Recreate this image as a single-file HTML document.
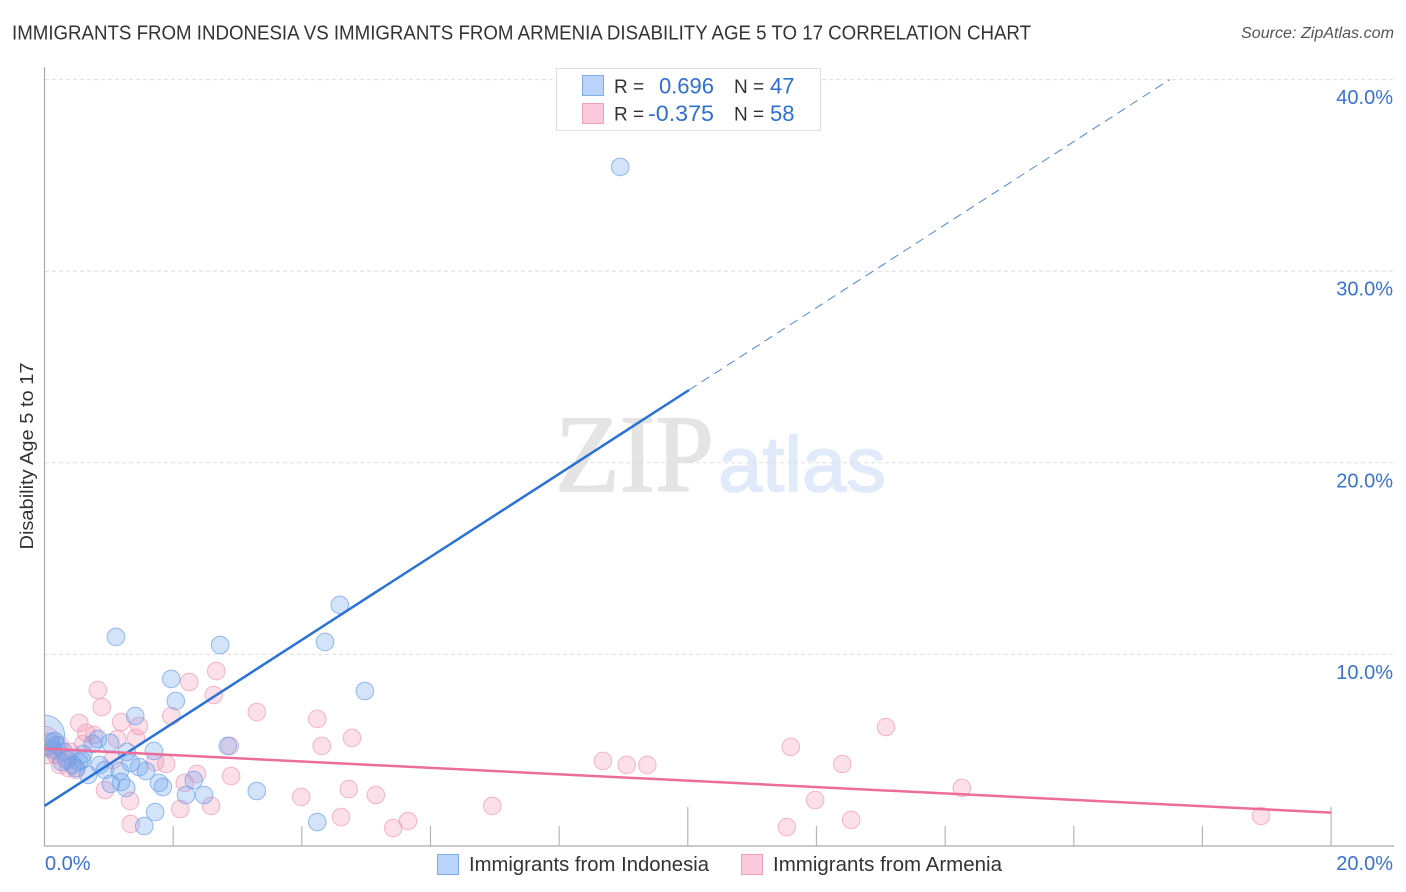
<!DOCTYPE html>
<html>
<head>
<meta charset="utf-8">
<style>
html,body{margin:0;padding:0;background:#fff;width:1406px;height:892px;overflow:hidden}
svg{display:block}
text{font-family:"Liberation Sans",sans-serif}
</style>
</head>
<body>
<svg id="chart" width="1406" height="892" viewBox="0 0 1406 892" xmlns="http://www.w3.org/2000/svg">
  <defs><clipPath id="plot-clip"><rect x="45" y="60" width="1349" height="786"/></clipPath></defs>
  <text x="12" y="39.5" font-size="20" fill="#333" textLength="1019" lengthAdjust="spacingAndGlyphs">IMMIGRANTS FROM INDONESIA VS IMMIGRANTS FROM ARMENIA DISABILITY AGE 5 TO 17 CORRELATION CHART</text>
  <text x="1241" y="38" font-size="15.5" font-style="italic" fill="#555" textLength="153" lengthAdjust="spacingAndGlyphs">Source: ZipAtlas.com</text>
  <text x="555" y="491" font-size="110" fill="#e4e4e4" stroke="#e4e4e4" stroke-width="1.5" style="font-family:'Liberation Serif',serif" textLength="159" lengthAdjust="spacingAndGlyphs">ZIP</text>
  <text x="718" y="491" font-size="78" fill="#e0eafa" stroke="#e0eafa" stroke-width="1.5" textLength="168" lengthAdjust="spacingAndGlyphs">atlas</text>
  <g id="grid"></g>
  <g id="axes"></g>
  <g id="points" clip-path="url(#plot-clip)"></g>
  <g id="trends"></g>
  <g id="tick-labels"></g>
  <text transform="translate(33,456) rotate(-90)" font-size="18" fill="#333" text-anchor="middle" textLength="187" lengthAdjust="spacingAndGlyphs">Disability Age 5 to 17</text>
  <g>
    <rect x="556.5" y="68.5" width="264" height="62" fill="#fff" stroke="#e0e0e0" stroke-width="1"/>
    <rect x="582.5" y="75.5" width="21" height="20" fill="#b9d4f8" stroke="#7fabe6" stroke-width="1"/>
    <rect x="582.5" y="103.5" width="21" height="20" fill="#fcc9dc" stroke="#f0a0bc" stroke-width="1"/>
    <text x="614" y="93" font-size="19" fill="#333">R =</text>
    <text x="714" y="93.500" font-size="22" fill="#2f6fd0" text-anchor="end">0.696</text>
    <text x="734" y="93" font-size="19" fill="#333">N =</text>
    <text x="770" y="93.500" font-size="22" fill="#2f6fd0">47</text>
    <text x="614" y="120.500" font-size="19" fill="#333">R =</text>
    <text x="714" y="121" font-size="22" fill="#2f6fd0" text-anchor="end" textLength="66" lengthAdjust="spacingAndGlyphs">-0.375</text>
    <text x="734" y="120.500" font-size="19" fill="#333">N =</text>
    <text x="770" y="121" font-size="22" fill="#2f6fd0">58</text>
  </g>
  <g>
    <rect x="437.500" y="854.500" width="21" height="20" fill="#b9d4f8" stroke="#7fabe6" stroke-width="1"/>
    <text x="469" y="871" font-size="20" fill="#333" textLength="240" lengthAdjust="spacingAndGlyphs">Immigrants from Indonesia</text>
    <rect x="741.500" y="854.500" width="21" height="20" fill="#fcc9dc" stroke="#f0a0bc" stroke-width="1"/>
    <text x="773" y="871" font-size="20" fill="#333" textLength="229" lengthAdjust="spacingAndGlyphs">Immigrants from Armenia</text>
  </g>
</svg>
<script>
const xTickValues = [0, 2, 4, 6, 8, 10, 12, 14, 16, 18, 20];
const xLabelValues = ["0.0%", "20.0%"];
const yTickValues = [10, 20, 30, 40];
const yTickLabels = ["10.0%", "20.0%", "30.0%", "40.0%"];

const blueX = [0, 8.95, 4.59, 4.36, 1.11, 2.73, 4.98, 1.97, 2.04, 1.41, 2.85, 1.70, 1.28, 0.83, 1.02, 0.75, 0.60, 3.30, 4.24, 1.55, 1.72, 2.20, 2.48, 2.32, 1.78, 1.84, 1.58, 1.47, 1.34, 1.17, 1.19, 1.27, 1.03, 0.94, 0.68, 0.86, 0.44, 0.35, 0.27, 0.54, 0.16, 0.09, 0.19, 0.58, 0.49, 0.13, 0.30];
const blueY = [5.79, 35.44, 12.58, 10.65, 10.91, 10.49, 8.09, 8.72, 7.57, 6.78, 5.22, 4.96, 4.91, 5.58, 5.38, 5.32, 4.80, 2.87, 1.25, 1.04, 1.77, 2.66, 2.66, 3.44, 3.29, 3.08, 3.91, 4.12, 4.33, 3.91, 3.34, 3.03, 3.24, 3.97, 3.71, 4.23, 4.23, 4.49, 4.38, 4.38, 5.48, 5.43, 5.27, 4.49, 4.07, 5.01, 4.91];
const blueWeight = [5.2];

const pinkX = [0, 0.83, 0.89, 0.54, 1.19, 1.47, 0.65, 0.77, 1.13, 1.42, 0.60, 1.72, 1.89, 2.37, 2.18, 0.94, 1.33, 1.34, 2.11, 2.59, 2.90, 3.99, 4.61, 4.73, 4.78, 4.31, 4.24, 3.30, 2.88, 2.63, 2.67, 2.25, 1.97, 1.06, 5.15, 5.42, 5.65, 6.96, 8.68, 9.05, 9.37, 11.60, 12.40, 13.08, 14.26, 11.98, 11.54, 12.54, 18.91, 0.24, 0.40, 0.12, 0.05, 0.24, 0.37, 0.49, 0.18, 0.32];
const pinkY = [5.45, 8.14, 7.25, 6.42, 6.47, 6.26, 5.90, 5.79, 5.58, 5.64, 5.32, 4.38, 4.28, 3.76, 3.29, 2.92, 2.35, 1.15, 1.93, 2.09, 3.65, 2.56, 1.51, 2.97, 5.64, 5.22, 6.63, 6.99, 5.22, 7.88, 9.13, 8.56, 6.78, 4.49, 2.66, 0.94, 1.30, 2.09, 4.44, 4.23, 4.23, 5.17, 4.28, 6.21, 3.03, 2.40, 0.99, 1.36, 1.57, 5.27, 4.91, 5.11, 4.75, 4.23, 4.07, 3.97, 4.75, 4.59];
const pinkWeight = [3];

const blueTrendX = [0, 10.02, 17.49];
const blueTrendY = [2.09, 23.8, 40];
const pinkTrendX = [0, 20];
const pinkTrendY = [5.08, 1.74];

const NS = "http://www.w3.org/2000/svg";
function xScale(v) { return 44.5 + v * 64.33; }
function yScale(v) { return 846 - v * 19.16; }
function make(parent, tag, attrs) {
  const el = document.createElementNS(NS, tag);
  for (const k in attrs) el.setAttribute(k, attrs[k]);
  document.getElementById(parent).appendChild(el);
  return el;
}

yTickValues.forEach(function (v, i) {
  const grid = make("grid", "line", { x1: 45, x2: 1394, y1: yScale(v), y2: yScale(v), stroke: "#dedede", "stroke-width": 1, "stroke-dasharray": "4 3" });
  
  
  const label = make("tick-labels", "text", { x: 1393, y: yScale(v) + 24.5, "font-size": 20, fill: "#3a72cf", "text-anchor": "end" });
  label.textContent = yTickLabels[i];
  
  
});

const yAxis = make("axes", "line", { x1: 44.5, x2: 44.5, y1: 67, y2: 846.5, stroke: "#aaa", "stroke-width": 1.2 });


const xAxis = make("axes", "line", { x1: 44, x2: 1394, y1: 846, y2: 846, stroke: "#aaa", "stroke-width": 1.2 });



xTickValues.forEach(function (v) {
  if (v === 0) return;
  const major = v === 10 || v === 20;
  const tick = make("axes", "line", { x1: xScale(v), x2: xScale(v), y1: major ? 807 : 826, y2: 846, stroke: "#b5b5b5", "stroke-width": 1.2 });
  
  
});

const x0Label = make("tick-labels", "text", { x: 45, y: 870, "font-size": 20, fill: "#3a72cf" });
x0Label.textContent = xLabelValues[0];


const x1Label = make("tick-labels", "text", { x: 1393, y: 870, "font-size": 20, fill: "#3a72cf", "text-anchor": "end" });
x1Label.textContent = xLabelValues[1];



pinkX.forEach(function (v, i) {
  const w = pinkWeight[i] || 1;
  const c = make("points", "circle", { cx: xScale(v), cy: yScale(pinkY[i]), r: 8.8 * Math.sqrt(w), fill: "#f28cb0", "fill-opacity": 0.28, stroke: "#f09ab8", "stroke-opacity": 0.7, "stroke-width": 1 });
  
  
});
blueX.forEach(function (v, i) {
  const w = blueWeight[i] || 1;
  const c = make("points", "circle", { cx: xScale(v), cy: yScale(blueY[i]), r: 8.8 * Math.sqrt(w), fill: "#6ea3ea", "fill-opacity": 0.3, stroke: "#6b9fe8", "stroke-opacity": 0.7, "stroke-width": 1 });
  
  
});

const blueSolid = make("trends", "line", { x1: xScale(blueTrendX[0]), y1: yScale(blueTrendY[0]), x2: xScale(blueTrendX[1]), y2: yScale(blueTrendY[1]), stroke: "#2a72d5", "stroke-width": 2.5 });


const blueDash = make("trends", "line", { x1: xScale(blueTrendX[1]), y1: yScale(blueTrendY[1]), x2: xScale(blueTrendX[2]), y2: yScale(blueTrendY[2]), stroke: "#4f86d3", "stroke-width": 1, "stroke-dasharray": "9 6" });


const pinkLine = make("trends", "line", { x1: xScale(pinkTrendX[0]), y1: yScale(pinkTrendY[0]), x2: xScale(pinkTrendX[1]), y2: yScale(pinkTrendY[1]), stroke: "#ec6d9a", "stroke-width": 2.5 });


</script>
</body>
</html>
